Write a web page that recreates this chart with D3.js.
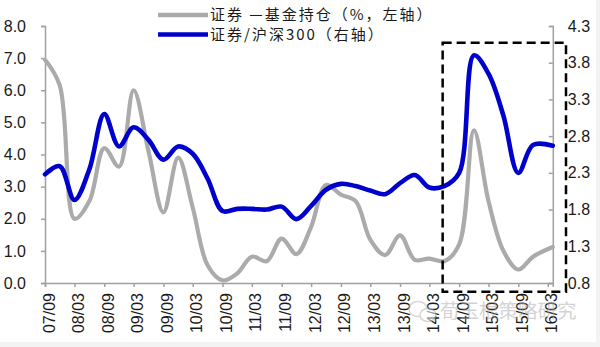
<!DOCTYPE html>
<html>
<head>
<meta charset="utf-8">
<script src="https://cdn.jsdelivr.net/npm/d3@7"></script>
<style>
  html, body { margin: 0; padding: 0; background: #f3f3f3; }
  svg { display: block; }
</style>
</head>
<body>
<svg id="chart" width="600" height="347"></svg>
<script>
// Quarterly observations (last one is the latest reading, April 2016)
const dates = [
  "2007-09","2007-12","2008-03","2008-06","2008-09","2008-12",
  "2009-03","2009-06","2009-09","2009-12","2010-03","2010-06",
  "2010-09","2010-12","2011-03","2011-06","2011-09","2011-12",
  "2012-03","2012-06","2012-09","2012-12","2013-03","2013-06",
  "2013-09","2013-12","2014-03","2014-06","2014-09","2014-12",
  "2015-03","2015-06","2015-09","2015-12","2016-04"
];
// 证券—基金持仓 (%, left axis)
const fundHolding = [
  6.95, 6.15, 2.00, 2.55, 4.20, 3.62,
  6.00, 4.10, 2.20, 3.90, 2.35, 0.55,
  0.08, 0.30, 0.82, 0.68, 1.38, 0.90,
  1.75, 3.05, 2.75, 2.55, 1.35, 0.87,
  1.48, 0.72, 0.76, 0.68, 1.20, 4.75,
  2.55, 1.00, 0.42, 0.82, 1.12
];
// 证券/沪深300 relative strength (right axis)
const relStrength = [
  2.28, 2.39, 1.93, 2.35, 3.10, 2.66,
  2.92, 2.75, 2.48, 2.66, 2.56, 2.22,
  1.78, 1.81, 1.81, 1.80, 1.84, 1.67,
  1.85, 2.07, 2.15, 2.12, 2.06, 2.01,
  2.16, 2.27, 2.10, 2.12, 2.30, 3.90,
  3.65, 3.08, 2.30, 2.68, 2.67
];
const xTickLabels = ["07/09","08/03","08/09","09/03","09/09","10/03","10/09","11/03","11/09",
                     "12/03","12/09","13/03","13/09","14/03","14/09","15/03","15/09","16/03"];
const leftTicks = [0, 1, 2, 3, 4, 5, 6, 7, 8];
const rightTicks = [0.8, 1.3, 1.8, 2.3, 2.8, 3.3, 3.8, 4.3];
const seriesNames = ["证券 —基金持仓（%，左轴）", "证券/沪深300（右轴）"];
const highlightStart = "2014-05-22";

const parseMonth = d3.timeParse("%Y-%m");
const parseTick = d3.timeParse("%y/%m");
const parseDay = d3.timeParse("%Y-%m-%d");

const svg = d3.select("#chart");
const plot = { left: 45, right: 552.8, top: 26, bottom: 283 };

svg.append("rect").attr("width", 596).attr("height", 342).attr("fill", "#ffffff");

const x = d3.scaleTime()
  .domain([parseMonth("2007-09"), parseMonth("2016-04")])
  .range([plot.left, plot.right]);
const yL = d3.scaleLinear().domain([0, 8]).range([plot.bottom, plot.top]);
const yR = d3.scaleLinear().domain([0.8, 4.3]).range([plot.bottom, plot.top]);

const axisColor = "#a0a0a0";
const labelFont = "'Liberation Sans', Arial, sans-serif";
const cjkFont = "'Noto Sans CJK SC', 'Liberation Sans', sans-serif";

// Left axis
const gL = svg.append("g").attr("transform", `translate(${plot.left},0)`)
  .call(d3.axisLeft(yL).tickValues(leftTicks).tickSize(4).tickPadding(15).tickFormat(d3.format(".1f")));
// Right axis (ticks point inward)
const gR = svg.append("g").attr("transform", `translate(${plot.right},0)`)
  .call(d3.axisRight(yR).tickValues(rightTicks).tickSize(-4).tickPadding(15).tickFormat(d3.format(".1f")));
// Bottom axis
const xTicks = xTickLabels.map(parseTick);
const gX = svg.append("g").attr("transform", `translate(0,${plot.bottom})`)
  .call(d3.axisBottom(x).tickValues(xTicks).tickSize(4).tickFormat(d3.timeFormat("%y/%m")));

[gL, gR, gX].forEach(g => {
  g.select(".domain").attr("stroke", axisColor).attr("stroke-width", 1.5);
  g.selectAll(".tick line").attr("stroke", axisColor).attr("stroke-width", 1.5);
  g.selectAll(".tick text").attr("fill", "#1a1a1a")
    .style("font-family", labelFont).style("font-size", "16px");
});
gR.selectAll(".tick text").attr("x", 15);
gX.selectAll(".tick text")
  .attr("text-anchor", "end")
  .attr("transform", "rotate(-90)")
  .attr("x", -10)
  .attr("y", 0)
  .attr("dy", 9);

// Series
const rows = dates.map((d, i) => ({ date: parseMonth(d), hold: fundHolding[i], rel: relStrength[i] }));
const curve = d3.curveCatmullRom.alpha(0.5);

svg.append("path").datum(rows)
  .attr("fill", "none").attr("stroke", "#ababab").attr("stroke-width", 4.2)
  .attr("stroke-linejoin", "round").attr("stroke-linecap", "round")
  .attr("d", d3.line().x(d => x(d.date)).y(d => yL(d.hold)).curve(curve));

svg.append("path").datum(rows)
  .attr("fill", "none").attr("stroke", "#0000cc").attr("stroke-width", 4.6)
  .attr("stroke-linejoin", "round").attr("stroke-linecap", "round")
  .attr("d", d3.line().x(d => x(d.date)).y(d => yR(d.rel)).curve(curve));

// Highlight box around the 2014-15 rally
const hx = x(parseDay(highlightStart));
svg.append("rect")
  .attr("x", hx).attr("y", 42.7)
  .attr("width", 566 - hx).attr("height", 291.7 - 42.7)
  .attr("fill", "none").attr("stroke", "#000").attr("stroke-width", 2.5)
  .attr("stroke-dasharray", "9,5");

// Legend
const legendColors = ["#ababab", "#0000cc"];
const legend = svg.append("g");
seriesNames.forEach((name, i) => {
  const cy = 15 + i * 19.5;
  legend.append("line").attr("x1", 158).attr("x2", 208).attr("y1", cy).attr("y2", cy)
    .attr("stroke", legendColors[i]).attr("stroke-width", 4.5);
  legend.append("text").attr("x", 210).attr("y", cy).attr("dy", "0.36em")
    .attr("fill", "#1a1a1a").style("font-family", cjkFont).style("font-size", "15px")
    .style("letter-spacing", "2px")
    .text(name);
});

// Watermark
const wm = svg.append("g").attr("opacity", 0.55);
wm.append("ellipse").attr("cx", 418).attr("cy", 309).attr("rx", 9).attr("ry", 7.5)
  .attr("fill", "none").attr("stroke", "#b8b8b8").attr("stroke-width", 1.5);
wm.append("ellipse").attr("cx", 428).attr("cy", 315).attr("rx", 8).attr("ry", 6.5)
  .attr("fill", "#fff").attr("stroke", "#b8b8b8").attr("stroke-width", 1.5);
wm.append("text").attr("x", 440).attr("y", 318)
  .attr("fill", "#b0b0b0").style("font-family", cjkFont).style("font-size", "19.5px")
  .text("荀玉根策略研究");
</script>
</body>
</html>
